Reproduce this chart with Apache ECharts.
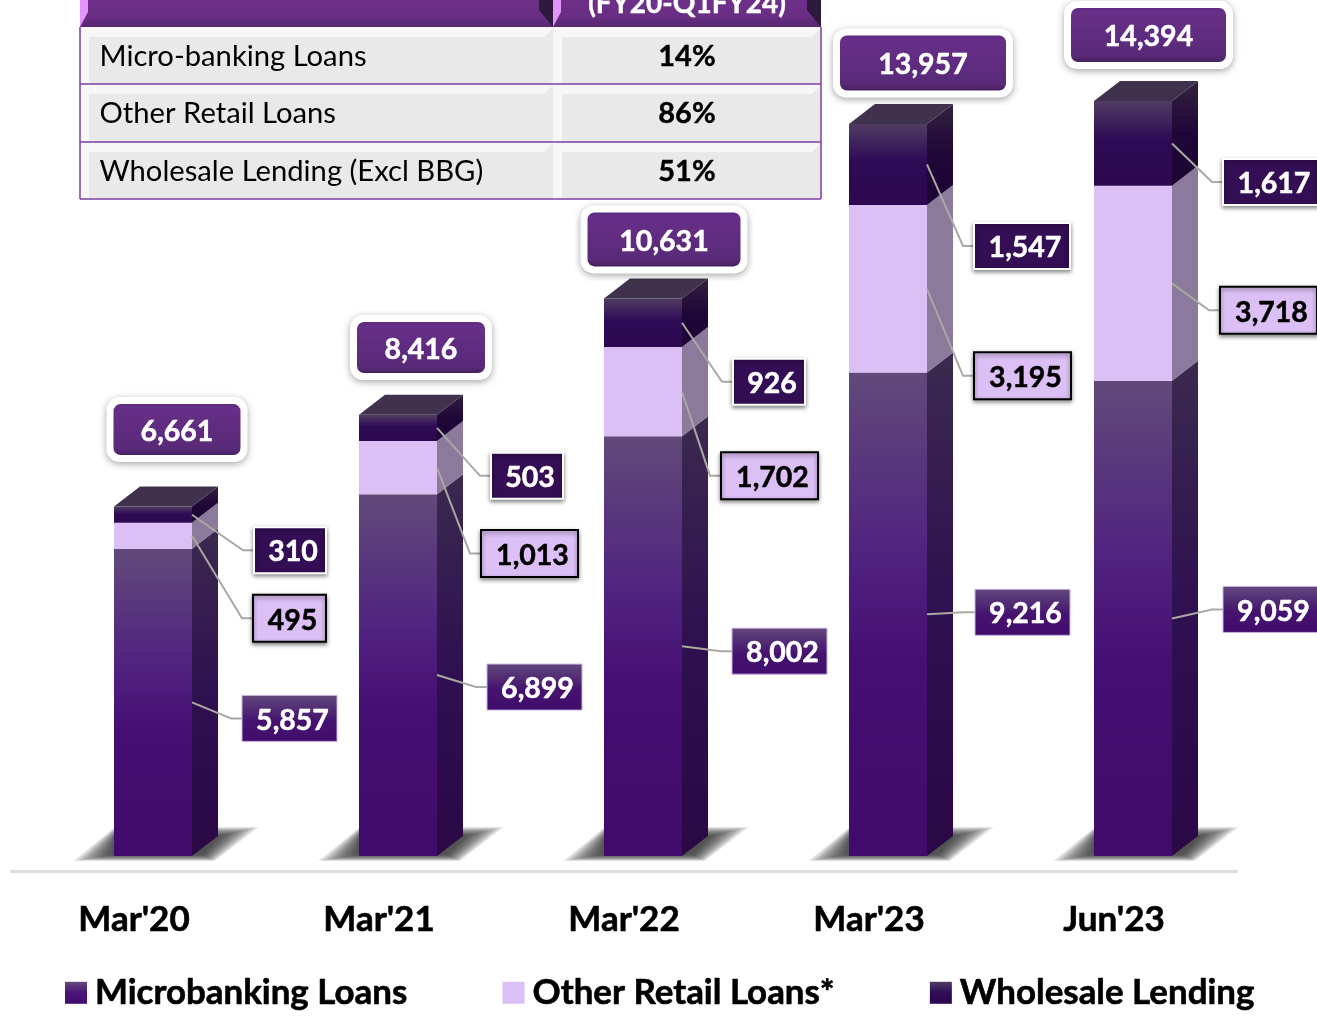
<!DOCTYPE html>
<html><head><meta charset="utf-8">
<style>html,body{margin:0;padding:0;background:#fff;overflow:hidden}#c{width:1317px;height:1016px}</style>
<script src="https://cdn.jsdelivr.net/npm/echarts@6/dist/echarts.min.js"></script>
</head><body><div id="c"></div>
<script>
const categories = ["Mar'20", "Mar'21", "Mar'22", "Mar'23", "Jun'23"];
const microbanking = [5857, 6899, 8002, 9216, 9059];
const otherRetail = [495, 1013, 1702, 3195, 3718];
const wholesale = [310, 503, 926, 1547, 1617];
const totals = [6661, 8416, 10631, 13957, 14394];
const tableRowNames = ['Micro-banking Loans', 'Other Retail Loans', 'Wholesale Lending (Excl BBG)'];
const tableRowValues = ['14%', '86%', '51%'];
const tableHeader = '(FY20-Q1FY24)';

// Layout of the annotation boxes only (offsets from the bar they belong to)
const microBoxDx = [50, 50, 50, 48, 51], microBoxDy = [16, 12, 5, -2, -9];
const otherBoxDx = [61, 44, 39, 47, 48], otherBoxDy = [82.5, 86, 84, 87, 27], otherBoxW = [73, 97, 97, 97, 97];
const whBoxDx = [62, 54, 51, 47, 51], whBoxDy = [35.5, 48, 59, 81.5, 38.5], whBoxW = [72, 72, 72, 96, 96];
const pillDx = [-15, -16, -18, -4, -23.5], pillDy = [-77, -67, -59, -61, -66];
const pillW = [127, 128, 153, 166, 155], pillH = [51, 51, 54, 55, 54];

const FONT = 'Lato';
const BAR_SHIFT = 19, BAR_HALF = 39, DEPTH_X = 26, DEPTH_Y = 20;
const G = (stops) => new echarts.graphic.LinearGradient(0, 0, 0, 1, stops.map((s) => ({offset: s[0], color: s[1]})));
const fmt = (v) => String(v).replace(/\B(?=(\d{3})+$)/g, ',');

const styles = {
  micro: {
    front: () => G([[0, '#62497a'], [0.4, '#4f2080'], [0.6, '#450e72'], [1, '#410b6d']]),
    side: () => G([[0, '#3b2a4f'], [0.5, '#2f1050'], [1, '#2b0846']]),
    box: {fill: () => G([[0, '#62497c'], [0.55, '#45136f'], [1, '#410c6c']]), stroke: '#c9b2e0', lineW: 1, shadow: false, text: '#fff', h: 46, w: 95, dx: microBoxDx, dy: microBoxDy}
  },
  other: {
    front: () => '#dcbff5',
    side: () => '#8c7a9c',
    box: {fill: () => '#dcbff5', stroke: '#000000', lineW: 2, shadow: true, text: '#000', h: 47, w: otherBoxW, dx: otherBoxDx, dy: otherBoxDy}
  },
  whole: {
    front: () => G([[0, '#503c62'], [0.45, '#2f0b56'], [1, '#2d0850']]),
    side: () => G([[0, '#33213f'], [0.5, '#1f0638'], [1, '#1c0533']]),
    box: {fill: () => '#340e54', stroke: '#ffffff', lineW: 2, shadow: true, text: '#fff', h: 46, w: whBoxW, dx: whBoxDx, dy: whBoxDy}
  }
};

function segmentRender(key, isTop) {
  const st = styles[key];
  return function (params, api) {
    const i = api.value(0);
    const cx = api.coord([i, 0])[0] + BAR_SHIFT;
    const yBot = api.coord([i, api.value(1)])[1];
    const yTop = api.coord([i, api.value(2)])[1];
    const x0 = cx - BAR_HALF, x1 = cx + BAR_HALF;
    const children = [
      {type: 'rect', z2: 5, shape: {x: x0, y: yTop, width: x1 - x0, height: yBot - yTop}, style: {fill: st.front()}},
      {type: 'polygon', z2: 5, shape: {points: [[x1, yTop], [x1 + DEPTH_X, yTop - DEPTH_Y], [x1 + DEPTH_X, yBot - DEPTH_Y], [x1, yBot]]}, style: {fill: st.side()}}
    ];
    if (isTop) {
      children.push({type: 'polygon', z2: 5, shape: {points: [[x0, yTop], [x0 + DEPTH_X, yTop - DEPTH_Y], [x1 + DEPTH_X, yTop - DEPTH_Y], [x1, yTop]]}, style: {fill: '#40324c'}});
    }
    const b = st.box;
    const w = Array.isArray(b.w) ? b.w[i] : b.w;
    const mid = (yTop + yBot) / 2;
    const bx = x1 + b.dx[i], by = mid + b.dy[i];
    children.push({type: 'polyline', z2: 20, shape: {points: [[x1, mid], [bx - 11, by], [bx, by]]}, style: {fill: 'none', stroke: '#a9a9a3', lineWidth: 2}});
    const boxStyle = {fill: b.fill(), stroke: b.stroke, lineWidth: b.lineW};
    if (b.shadow) { boxStyle.shadowBlur = 4; boxStyle.shadowOffsetY = 2; boxStyle.shadowColor = 'rgba(0,0,0,0.45)'; }
    children.push({type: 'rect', z2: 21, shape: {x: bx, y: by - b.h / 2, width: w, height: b.h}, style: boxStyle});
    children.push({type: 'text', z2: 22, style: {x: bx + w / 2 + 3, y: by + 2, text: fmt(api.value(3)), align: 'center', verticalAlign: 'middle', fill: b.text, stroke: b.text, lineWidth: 0.5, font: 'bold 28.5px ' + FONT}});
    return {type: 'group', children};
  };
}

function segmentSeries(name, key, values, bases, isTop, legendColor) {
  return {
    name, type: 'custom', coordinateSystem: 'cartesian2d', z: 3, clip: false,
    itemStyle: {color: legendColor},
    encode: {x: 0, y: 2},
    renderItem: segmentRender(key, isTop),
    data: values.map((v, i) => [i, bases[i], bases[i] + v, v])
  };
}

// Soft floor shadow: nested translucent parallelograms under each bar
const shadowSeries = {
  name: 'shadow', type: 'custom', z: 2, silent: true, clip: false, encode: {x: 0, y: 1},
  renderItem(params, api) {
    const i = api.value(0);
    const cx = api.coord([i, 0])[0] + BAR_SHIFT;
    const y = api.coord([i, 0])[1];
    const children = [];
    for (let k = 0; k < 16; k++) {
      const a = k * 2.6, d = k * 0.6;
      children.push({type: 'polygon', shape: {points: [
        [cx - 80 + a, y + 5 - d * 0.7], [cx + 62 - a * 0.3, y + 5 - d * 0.7],
        [cx + 106 - a, y - 29 + d], [cx + 62, y - 29 + d], [cx - 38, y - 29 + d]
      ]}, style: {fill: 'rgba(30,30,30,0.085)'}});
    }
    return {type: 'group', children};
  },
  data: categories.map((c, i) => [i, 0])
};

const totalSeries = {
  name: 'total', type: 'custom', z: 4, silent: true, clip: false, encode: {x: 0, y: 1},
  renderItem(params, api) {
    const i = api.value(0);
    const x1 = api.coord([i, 0])[0] + BAR_SHIFT + BAR_HALF;
    const yTop = api.coord([i, api.value(1)])[1];
    const cx = x1 + pillDx[i], cy = yTop + pillDy[i];
    const w = pillW[i], h = pillH[i];
    return {type: 'group', children: [
      {type: 'rect', z2: 30, shape: {x: cx - w / 2 - 7, y: cy - h / 2 - 7, width: w + 14, height: h + 14, r: 13},
        style: {fill: '#fff', shadowBlur: 7, shadowOffsetY: 2, shadowColor: 'rgba(0,0,0,0.35)'}},
      {type: 'rect', z2: 31, shape: {x: cx - w / 2, y: cy - h / 2, width: w, height: h, r: 7},
        style: {fill: G([[0, '#5d2b80'], [0.08, '#672f88'], [0.5, '#5f2c80'], [0.88, '#592a78'], [1, '#46205f']])}},
      {type: 'text', z2: 32, style: {x: cx, y: cy + 2, text: fmt(api.value(1)), align: 'center', verticalAlign: 'middle', fill: '#fff', stroke: '#fff', lineWidth: 0.5, font: 'bold 28.5px ' + FONT}}
    ]};
  },
  data: totals.map((t, i) => [i, t])
};

const otherBase = microbanking;
const wholeBase = microbanking.map((m, i) => m + otherRetail[i]);
const zeros = microbanking.map(() => 0);

// Table above the chart, drawn as graphic elements
function buildTable() {
  const els = [];
  const L = 80, M = 553, R = 821, rowY = [27, 84, 142, 199];
  els.push({type: 'rect', z: 1, shape: {x: L, y: 0, width: R - L, height: 27}, style: {fill: G([[0, '#6f3089'], [0.6, '#692d83'], [1, '#582673']])}});
  els.push({type: 'polygon', z: 2, shape: {points: [[L, 0], [L + 8, 0], [L + 8, 12], [L, 27]]}, style: {fill: '#e394ff'}});
  els.push({type: 'polygon', z: 2, shape: {points: [[M, 0], [M + 8, 0], [M + 8, 12], [M, 27]]}, style: {fill: '#e394ff'}});
  els.push({type: 'polygon', z: 2, shape: {points: [[M - 14, 0], [M, 0], [M, 27], [M - 14, 10]]}, style: {fill: '#2d1a3c'}});
  els.push({type: 'polygon', z: 2, shape: {points: [[R - 14, 0], [R, 0], [R, 27], [R - 14, 10]]}, style: {fill: '#2d1a3c'}});
  els.push({type: 'text', z: 3, style: {x: 687, y: 4, text: tableHeader, align: 'center', verticalAlign: 'middle', fill: '#fff', stroke: '#fff', lineWidth: 0.4, font: 'bold 28px ' + FONT}});
  tableRowNames.forEach((name, r) => {
    const y0 = rowY[r], y1 = rowY[r + 1];
    [[L, M], [M, R]].forEach((c) => {
      els.push({type: 'rect', z: 1, shape: {x: c[0], y: y0, width: c[1] - c[0], height: y1 - y0}, style: {fill: '#f7f7f7'}});
      els.push({type: 'polygon', z: 1, shape: {points: [[c[0] + 9, y0 + 10], [c[1] - 9, y0 + 10], [c[1], y0 + 1], [c[1], y1], [c[0] + 2, y1], [c[0] + 9, y1 - 1]]}, style: {fill: '#e9e9e9'}});
    });
    els.push({type: 'text', z: 3, style: {x: 99.5, y: (y0 + y1) / 2 + 1, text: name, align: 'left', verticalAlign: 'middle', fill: '#000', font: '29.2px ' + FONT}});
    els.push({type: 'text', z: 3, style: {x: 687, y: (y0 + y1) / 2 + 1, text: tableRowValues[r], align: 'center', verticalAlign: 'middle', fill: '#000', stroke: '#000', lineWidth: 0.4, font: 'bold 29px ' + FONT}});
    els.push({type: 'line', z: 4, shape: {x1: L, y1: y1, x2: R, y2: y1}, style: {stroke: '#7b3fa0', lineWidth: 1.5}});
  });
  els.push({type: 'line', z: 4, shape: {x1: L, y1: 27, x2: L, y2: 199}, style: {stroke: '#7b3fa0', lineWidth: 1.5}});
  els.push({type: 'line', z: 4, shape: {x1: R, y1: 27, x2: R, y2: 199}, style: {stroke: '#7b3fa0', lineWidth: 1.5}});
  return els;
}

const chart = echarts.init(document.getElementById('c'), null, {renderer: 'canvas'});
chart.setOption({
  animation: false,
  backgroundColor: '#fff',
  tooltip: {show: false},
  grid: {left: 11.5, width: 1225, top: 0, height: 856, containLabel: false},
  xAxis: {
    type: 'category', data: categories, offset: 15,
    axisLine: {show: true, onZero: false, lineStyle: {color: '#dcdcdc', width: 3}},
    axisTick: {show: false},
    axisLabel: {margin: 31, color: '#000', fontFamily: FONT, fontWeight: 'bold', fontSize: 35, interval: 0, textBorderColor: '#000', textBorderWidth: 0.6}
  },
  yAxis: {type: 'value', min: 0, max: 16320, show: false, splitLine: {show: false}},
  legend: {
    left: 60, top: 970, icon: 'rect', itemWidth: 22, itemHeight: 22, itemGap: 95, selectedMode: false,
    data: ['Microbanking Loans', 'Other Retail Loans*', 'Wholesale Lending'],
    textStyle: {color: '#000', fontFamily: FONT, fontWeight: 'bold', fontSize: 34.9, padding: [0, 0, 0, 3], textBorderColor: '#000', textBorderWidth: 0.6}
  },
  graphic: buildTable(),
  series: [
    shadowSeries,
    segmentSeries('Microbanking Loans', 'micro', microbanking, zeros, false, G([[0, '#62497a'], [0.5, '#4a1578'], [1, '#410b6d']])),
    segmentSeries('Other Retail Loans*', 'other', otherRetail, otherBase, false, '#dcbff5'),
    segmentSeries('Wholesale Lending', 'whole', wholesale, wholeBase, true, G([[0, '#503c62'], [0.5, '#2f0b56'], [1, '#2d0850']])),
    totalSeries
  ]
});
</script></body></html>
